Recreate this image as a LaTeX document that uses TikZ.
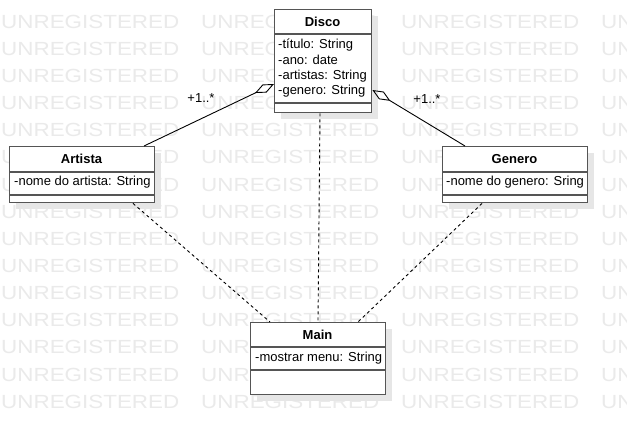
\documentclass[tikz,border=0pt]{standalone}
\usepackage{graphicx}
\usepackage{fontspec}
\setmainfont{Liberation Sans}
\usetikzlibrary{arrows.meta,calc,shadows}
\definecolor{boxgray}{HTML}{555555}
\definecolor{wmgray}{HTML}{EAEAEA}
\definecolor{shadowgray}{HTML}{E6E6E6}
\begin{document}
\begin{tikzpicture}[x=1pt,y=-1pt,
  classbox/.style={draw=boxgray, line width=1.4pt, fill=white, anchor=north west, inner sep=0pt,
    drop shadow={shadow xshift=6pt, shadow yshift=-6pt, fill=shadowgray, opacity=1}},
  sepline/.style={draw=boxgray, line width=1.4pt},
  title/.style={font=\fontsize{13}{15.3}\selectfont\bfseries, inner sep=0pt},
  attr/.style={font=\fontsize{13}{15.3}\selectfont, inner sep=0pt, anchor=west, align=left},
  mult/.style={font=\fontsize{13}{15.3}\selectfont, inner sep=0pt},
  wm/.style={font=\fontsize{19}{21}\selectfont, text=wmgray, inner sep=0pt, anchor=west},
  aggr/.style={draw=black, line width=0.9pt, {Diamond[open,length=21pt,width=9pt]}-},
  dep/.style={draw=black, line width=0.9pt, dash pattern=on 3pt off 3pt}]
\useasboundingbox (0,0) rectangle (627,434);
\fill[white] (0,0) rectangle (627,434);
% watermark
\begin{scope}
\clip (0,0) rectangle (627,434);
\foreach \r in {0,...,14}{
  \foreach \c in {0,...,3}{
    \node[wm] (wm-\r-\c) at (1+200*\c, 21.7+27.14*\r) {\scalebox{1.18}[1]{UNREGISTERED}};
  }
}
\end{scope}
% Disco
\node[classbox, minimum width=97pt, minimum height=103pt] (disco) at (274,9) {};
\draw[sepline] ([yshift=-25pt]disco.north west) -- ([yshift=-25pt]disco.north east);
\draw[sepline] ([yshift=-94pt]disco.north west) -- ([yshift=-94pt]disco.north east);
\node[title] (discot) at (322.5,21.5) {Disco};
\node[attr] (discoa) at (278,68.5) {-título: String\\-ano: date\\-artistas: String\\-genero: String};
% Artista
\node[classbox, minimum width=145pt, minimum height=56pt] (artista) at (9,146) {};
\draw[sepline] ([yshift=-26pt]artista.north west) -- ([yshift=-26pt]artista.north east);
\draw[sepline] ([yshift=-49pt]artista.north west) -- ([yshift=-49pt]artista.north east);
\node[title] (artistat) at (81.5,159) {Artista};
\node[attr] (artistaa) at (14,182) {-nome do artista: String};
% Genero
\node[classbox, minimum width=145pt, minimum height=56pt] (genero) at (442,146) {};
\draw[sepline] ([yshift=-26pt]genero.north west) -- ([yshift=-26pt]genero.north east);
\draw[sepline] ([yshift=-49pt]genero.north west) -- ([yshift=-49pt]genero.north east);
\node[title] (generot) at (514.5,159) {Genero};
\node[attr] (generoa) at (446,182) {-nome do genero: Sring};
% Main
\node[classbox, minimum width=135pt, minimum height=72pt] (main) at (250,322) {};
\draw[sepline] ([yshift=-25pt]main.north west) -- ([yshift=-25pt]main.north east);
\draw[sepline] ([yshift=-48pt]main.north west) -- ([yshift=-48pt]main.north east);
\node[title] (maint) at (317.5,334.5) {Main};
\node[attr] (maina) at (255,358) {-mostrar menu: String};
% aggregations
\draw[aggr] ([yshift=-75pt]disco.north west) -- ([xshift=135pt]artista.north west);
\draw[aggr] ([yshift=-81pt]disco.north east) -- ([xshift=23pt]genero.north west);
\node[mult] (m1) at (201,98) {+1..*};
\node[mult] (m2) at (427,99) {+1..*};
% dependencies
\draw[dep] ([xshift=46pt]disco.south west) -- ([xshift=68pt]main.north west);
\draw[dep] ([xshift=124pt]artista.south west) -- ([xshift=20pt]main.north west);
\draw[dep] ([xshift=40pt]genero.south west) -- ([xshift=108pt]main.north west);
\end{tikzpicture}
\end{document}
